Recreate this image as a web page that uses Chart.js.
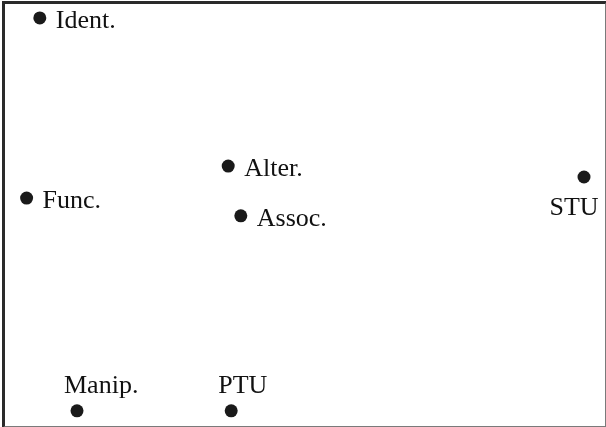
<!DOCTYPE html>
<html>
<head>
<meta charset="utf-8">
<script src="https://cdn.jsdelivr.net/npm/chart.js@4/dist/chart.umd.min.js"></script>
<style>
  html, body { margin: 0; padding: 0; background: #fff; }
  #wrap { position: absolute; left: 2px; top: 1px; width: 600px; height: 422px;
          border-left: 3px solid #2a2a2a; border-top: 3px solid #2a2a2a;
          border-right: 2px solid #7a7a7a; border-bottom: 2px solid #7a7a7a; }
  canvas { display: block; }
</style>
</head>
<body>
<div id="wrap"><canvas id="c" width="600" height="422"></canvas></div>
<script>
// Data (arbitrary 0–10 units)
const labels = ["Ident.", "Alter.", "Func.", "Assoc.", "STU", "Manip.", "PTU"];
const xValues = [0.58, 3.72, 0.36, 3.93, 9.65, 1.20, 3.77];
const yValues = [9.67, 6.16, 5.40, 4.98, 5.90, 0.36, 0.36];
const labelSide = ["right", "right", "right", "right", "below", "above", "above"];

const points = labels.map((l, i) => ({ x: xValues[i], y: yValues[i] }));

const FONT = '26px "Liberation Serif", "Times New Roman", serif';

const labelPlugin = {
  id: 'pointLabels',
  afterDatasetsDraw(chart) {
    const ctx = chart.ctx;
    const meta = chart.getDatasetMeta(0);
    ctx.save();
    ctx.font = FONT;
    ctx.fillStyle = '#111111';
    ctx.textBaseline = 'alphabetic';
    meta.data.forEach((el, i) => {
      const side = labelSide[i];
      let tx, ty;
      if (side === 'right') { ctx.textAlign = 'left'; tx = el.x + 16; ty = el.y + 10; }
      else if (side === 'below') { ctx.textAlign = 'center'; tx = el.x - 10; ty = el.y + 38; }
      else { ctx.textAlign = 'left'; tx = el.x - 13; ty = el.y - 18; }
      ctx.fillText(labels[i], tx, ty);
    });
    ctx.restore();
  }
};

function draw() {
  new Chart(document.getElementById('c'), {
    type: 'scatter',
    data: {
      datasets: [{
        data: points,
        pointRadius: 6.5,
        pointHoverRadius: 6.5,
        pointBackgroundColor: '#1a1a1a',
        pointBorderColor: '#1a1a1a',
        pointBorderWidth: 0
      }]
    },
    options: {
      responsive: false,
      animation: false,
      layout: { padding: 0, autoPadding: false },
      plugins: { legend: { display: false }, tooltip: { enabled: false } },
      scales: {
        x: { type: 'linear', min: 0, max: 10, display: false },
        y: { type: 'linear', min: 0, max: 10, display: false }
      }
    },
    plugins: [labelPlugin]
  });
}

if (document.fonts && document.fonts.load) {
  document.fonts.load(FONT).then(draw, draw);
} else {
  draw();
}
</script>
</body>
</html>
